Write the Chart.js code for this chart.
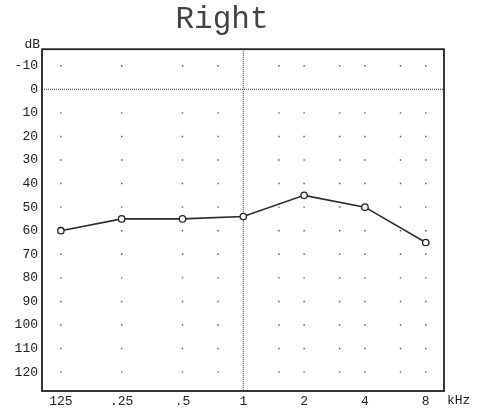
<!DOCTYPE html>
<html>
<head>
<meta charset="utf-8">
<script src="https://cdn.jsdelivr.net/npm/chart.js@4.4.1/dist/chart.umd.min.js"></script>
<style>
  html, body { margin: 0; padding: 0; background: #fff; }
  #wrap { width: 481px; height: 412px; position: relative; }
</style>
</head>
<body>
<div id="wrap"><canvas id="audiogram"></canvas></div>
<script>
'use strict';

// --- data ---
const FREQS = [125, 250, 500, 750, 1000, 1500, 2000, 3000, 4000, 6000, 8000];
const TEST_FREQS = [125, 250, 500, 1000, 2000, 4000, 8000];
const THRESHOLDS = [60, 55, 55, 54, 45, 50, 65];
const X_TICK_FREQS = [125, 250, 500, 1000, 2000, 4000, 8000];
const X_TICK_LABELS = ['125', '.25', '.5', '1', '2', '4', '8'];
const Y_TICKS = [-10, 0, 10, 20, 30, 40, 50, 60, 70, 80, 90, 100, 110, 120];
const REF_LEVEL = 0;
const REF_FREQ = 1000;

const Y_MIN = -17, Y_MAX = 128;
const X_MIN = -0.31, X_MAX = 6.3;   // octaves above 125 Hz

const oct = f => Math.log2(f / 125);

// dotted grid: every frequency/level crossing except the reference lines
const gridDots = [];
FREQS.filter(f => f !== REF_FREQ).forEach(f => {
  Y_TICKS.filter(v => v !== REF_LEVEL).forEach(v => gridDots.push({ x: oct(f), y: v }));
});

const MONO = '"Liberation Mono", "DejaVu Sans Mono", monospace';

// frame + dB / kHz unit labels
const framePlugin = {
  id: 'frame',
  afterDraw(chart) {
    const { ctx, chartArea: a } = chart;
    ctx.save();
    ctx.strokeStyle = '#222';
    ctx.lineWidth = 1.8;
    ctx.strokeRect(a.left, a.top, a.right - a.left, a.bottom - a.top);
    ctx.fillStyle = '#222';
    ctx.font = '13px ' + MONO;
    ctx.textBaseline = 'middle';
    ctx.textAlign = 'right';
    ctx.fillText('dB', a.left - 2, a.top - 5);
    ctx.textAlign = 'left';
    ctx.fillText('kHz', a.right + 3, a.bottom + 10);
    ctx.restore();
  },
};

const ctx = document.getElementById('audiogram').getContext('2d');
new Chart(ctx, {
  type: 'scatter',
  data: {
    datasets: [
      {
        label: 'Right',
        data: TEST_FREQS.map((f, i) => ({ x: oct(f), y: THRESHOLDS[i] })),
        showLine: true,
        borderColor: '#2a2a2a',
        borderWidth: 1.6,
        pointRadius: 3.2,
        pointBackgroundColor: '#fff',
        pointBorderColor: '#222',
        pointBorderWidth: 1.3,
        order: 0,
      },
      {
        label: 'grid',
        data: gridDots,
        pointRadius: 1,
        pointStyle: 'rect',
        pointBackgroundColor: '#555',
        pointBorderWidth: 0,
        order: 3,
      },
      {
        label: 'ref level',
        data: [{ x: X_MIN, y: REF_LEVEL }, { x: X_MAX, y: REF_LEVEL }],
        showLine: true,
        borderColor: '#333',
        borderWidth: 1,
        borderDash: [1, 1],
        pointRadius: 0,
        order: 2,
      },
      {
        label: 'ref freq',
        data: [{ x: oct(REF_FREQ), y: Y_MIN }, { x: oct(REF_FREQ), y: Y_MAX }],
        showLine: true,
        borderColor: '#333',
        borderWidth: 1,
        borderDash: [1, 1],
        pointRadius: 0,
        order: 2,
      },
    ],
  },
  options: {
    responsive: true,
    maintainAspectRatio: false,
    animation: false,
    layout: { padding: { top: 0, right: 37, left: 0, bottom: 0 } },
    plugins: {
      legend: { display: false },
      tooltip: { enabled: false },
      title: {
        display: true,
        text: 'Right',
        color: '#444',
        font: { family: MONO, size: 31, weight: 'normal' },
        padding: { top: 1, bottom: 11 },
      },
    },
    scales: {
      x: {
        type: 'linear',
        min: X_MIN,
        max: X_MAX,
        grid: { display: false, drawTicks: false },
        border: { display: false },
        afterBuildTicks: s => { s.ticks = X_TICK_FREQS.map(f => ({ value: oct(f) })); },
        afterFit: s => { s.height = 21; },
        ticks: {
          padding: 3,
          color: '#222',
          font: { family: MONO, size: 13 },
          maxRotation: 0,
          autoSkip: false,
          callback: (v, i) => X_TICK_LABELS[i],
        },
      },
      y: {
        type: 'linear',
        reverse: true,
        min: Y_MIN,
        max: Y_MAX,
        grid: { display: false, drawTicks: false },
        border: { display: false },
        afterBuildTicks: s => { s.ticks = Y_TICKS.map(v => ({ value: v })); },
        afterFit: s => { s.width = 42; },
        ticks: {
          padding: 4,
          color: '#222',
          font: { family: MONO, size: 13 },
          autoSkip: false,
        },
      },
    },
  },
  plugins: [framePlugin],
});
</script>
</body>
</html>
